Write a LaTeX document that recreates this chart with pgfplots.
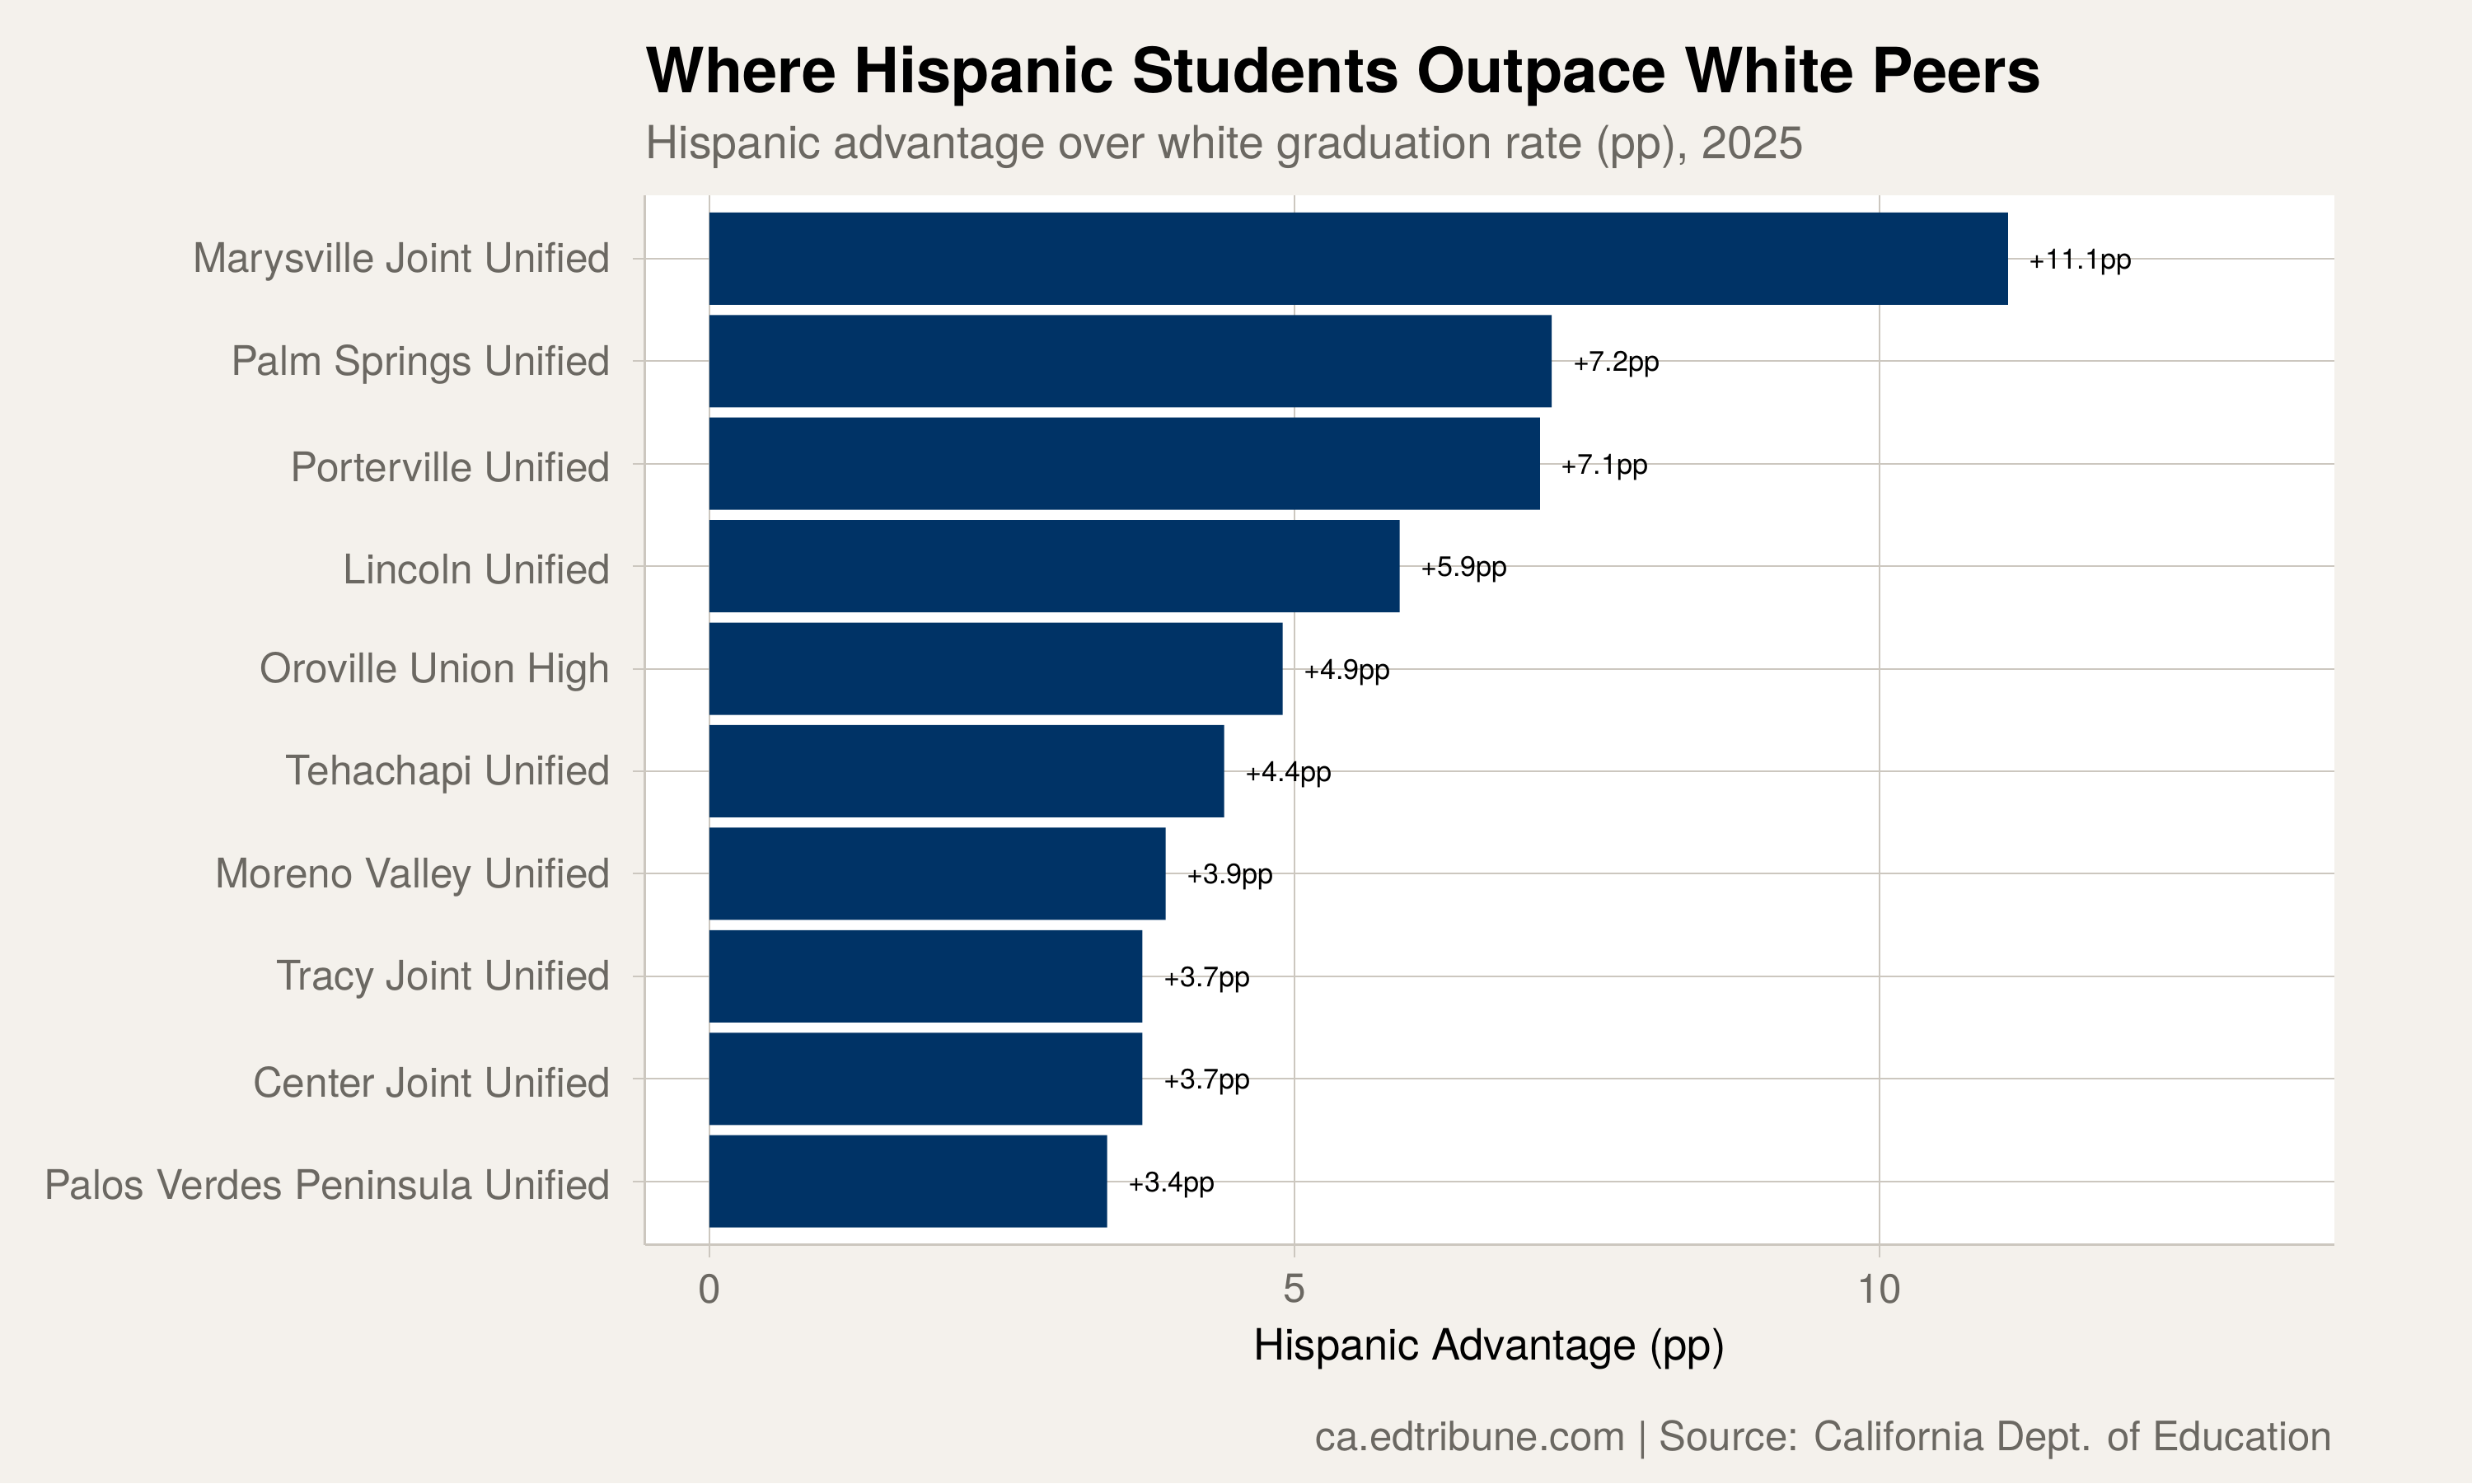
\documentclass[border=0pt]{standalone}
\usepackage{fontspec}
\setmainfont{TeX Gyre Heros}
\usepackage{pgfplots}
\usepackage{pgfplotstable}
\pgfplotsset{compat=1.18}
\definecolor{bg}{HTML}{F4F1EC}
\definecolor{barc}{HTML}{003366}
\definecolor{gridc}{HTML}{CCC7BF}
\definecolor{txtg}{HTML}{6B6862}

\pgfplotstableread{
y x lab
9 11.1 +11.1pp
8 7.2 +7.2pp
7 7.1 +7.1pp
6 5.9 +5.9pp
5 4.9 +4.9pp
4 4.4 +4.4pp
3 3.9 +3.9pp
2 3.7 +3.7pp
1 3.7 +3.7pp
0 3.4 +3.4pp
}\data

\begin{document}
\begin{tikzpicture}
\fill[bg] (0,0) rectangle (720pt,432pt);
\useasboundingbox (0,0) rectangle (720pt,432pt);
\begin{axis}[
  at={(187.9pt,69.4pt)}, anchor=south west,
  scale only axis, width=492pt, height=305.8pt,
  xmin=-0.55, xmax=13.89, ymin=-0.62, ymax=9.62,
  axis background/.style={fill=white},
  axis x line*=bottom, axis y line*=left,
  axis line style={-, gridc, line width=0.7pt},
  xtick={0,5,10}, ytick={0,...,9},
  yticklabels={Palos Verdes Peninsula Unified, Center Joint Unified, Tracy Joint Unified, Moreno Valley Unified, Tehachapi Unified, Oroville Union High, Lincoln Unified, Porterville Unified, Palm Springs Unified, Marysville Joint Unified},
  tick align=outside, major tick length=3.6pt,
  tick style={gridc, line width=0.5pt},
  xmajorgrids, ymajorgrids, grid style={gridc, line width=0.5pt},
  ticklabel style={font=\fontsize{11.9}{13}\selectfont, text=txtg},
  yticklabel style={xshift=-2.8pt, yshift=-1pt},
  xticklabel style={yshift=-1.4pt},
  /pgf/number format/assume math mode=true,
  xbar, bar width=0.9,
  nodes near coords,
  point meta=explicit symbolic,
  nodes near coords style={font=\fontsize{8.2}{9}\selectfont, text=black, anchor=west, inner sep=0pt, xshift=6pt, yshift=-1pt},
]
\addplot[draw=none, fill=barc] table[x=x, y=y, meta=lab] {\data};
\end{axis}
\node[anchor=base west, font=\bfseries\fontsize{18.2}{22}\selectfont, inner sep=0pt] at (187.9pt,404.9pt) {Where Hispanic Students Outpace White Peers};
\node[anchor=base west, font=\fontsize{13.3}{15}\selectfont, text=txtg, inner sep=0pt] at (187.9pt,385.9pt) {Hispanic advantage over white graduation rate (pp), 2025};
\node[anchor=base, font=\fontsize{12.6}{14}\selectfont, inner sep=0pt] at (433.9pt,36pt) {Hispanic Advantage (pp)};
\node[anchor=base east, font=\fontsize{11.8}{13}\selectfont, text=txtg, inner sep=0pt] at (679.6pt,9.6pt) {ca.edtribune.com | Source: California Dept. of Education};
\end{tikzpicture}
\end{document}
